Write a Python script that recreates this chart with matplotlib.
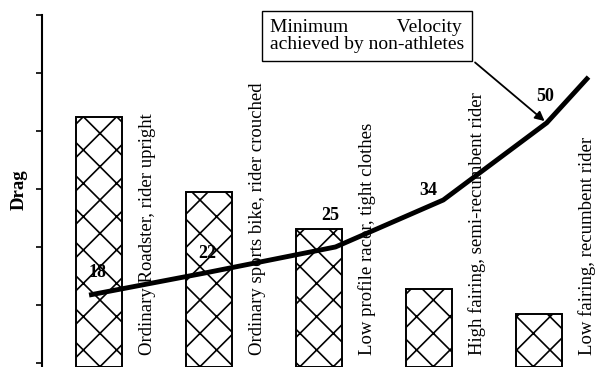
import matplotlib
matplotlib.use("Agg")
import matplotlib.pyplot as plt
import numpy as np

plt.rcParams["font.family"] = ["Liberation Serif", "DejaVu Serif"]
plt.rcParams["hatch.linewidth"] = 1.2

# ── Data ──────────────────────────────────────────────────────────────────────
categories = [
    "Ordinary Roadster, rider upright",
    "Ordinary sports bike, rider crouched",
    "Low profile racer, tight clothes",
    "High fairing, semi-recumbent rider",
    "Low fairing, recumbent rider",
]
drag = [4.24, 2.95, 2.31, 1.28, 0.84]

# velocity curve (same drag axis, x in category units)
curve_x = [-0.09, 0.96, 2.15, 3.13, 4.07, 4.45]
curve_y = [1.17, 1.55, 2.00, 2.81, 4.14, 4.93]
velocity_labels = ["18", "22", "25", "34", "50"]
label_offsets = [(6, 16), (2, 14), (-4, 23), (-11, 7), (-1, 19)]

y_ticks = [0, 1, 2, 3, 4, 5, 6]

# ── Figure ────────────────────────────────────────────────────────────────────
fig = plt.figure(figsize=(5.95, 3.67), dpi=100)
ax = fig.add_axes([42 / 595, 0, 1 - 42 / 595, 1 - 15 / 367])
y_lo = -0.07
ax.set_xlim(-0.518, 4.509)
ax.set_ylim(y_lo, 6)

x = np.arange(len(categories))
ax.bar(x, np.array(drag) - y_lo, bottom=y_lo, width=0.41, color="white",
       edgecolor="black", linewidth=1.4, hatch="x", zorder=2)

for xi, name in zip(x, categories):
    ax.text(xi + 0.44, 0.14, name, rotation=90, ha="center", va="bottom",
            fontsize=13.5, zorder=3)

ax.plot(curve_x, curve_y, color="black", linewidth=3.5,
        solid_capstyle="butt", solid_joinstyle="round", zorder=4)
for lab, cx, cy, off in zip(velocity_labels, curve_x, curve_y, label_offsets):
    ax.annotate(lab, (cx, cy), xytext=off, textcoords="offset points",
                ha="center", va="center", fontsize=13, fontweight="bold",
                zorder=5)

ax.annotate("Minimum          Velocity\nachieved by non-athletes",
            xy=(curve_x[4], curve_y[4]), xycoords="data",
            xytext=(270 / 595, 1 - 36 / 367), textcoords="figure fraction",
            ha="left", va="center", fontsize=14, linespacing=1.05,
            bbox=dict(boxstyle="square,pad=0.42", fc="white", ec="black", lw=1.0),
            arrowprops=dict(arrowstyle="-|>", color="black", lw=1.3,
                            relpos=(1, 0), mutation_scale=14, shrinkB=2),
            zorder=6)

fig.text(19 / 595, 1 - 190 / 367, "Drag", rotation=90, ha="center", va="center",
         fontsize=13.5, fontweight="bold")

for side in ["top", "right", "bottom"]:
    ax.spines[side].set_visible(False)
ax.spines["left"].set_linewidth(1.5)
ax.set_yticks(y_ticks)
ax.set_yticklabels([])
ax.tick_params(axis="y", direction="out", length=4, width=1.2)
ax.set_xticks([])

fig.savefig("out.png", dpi=100)
